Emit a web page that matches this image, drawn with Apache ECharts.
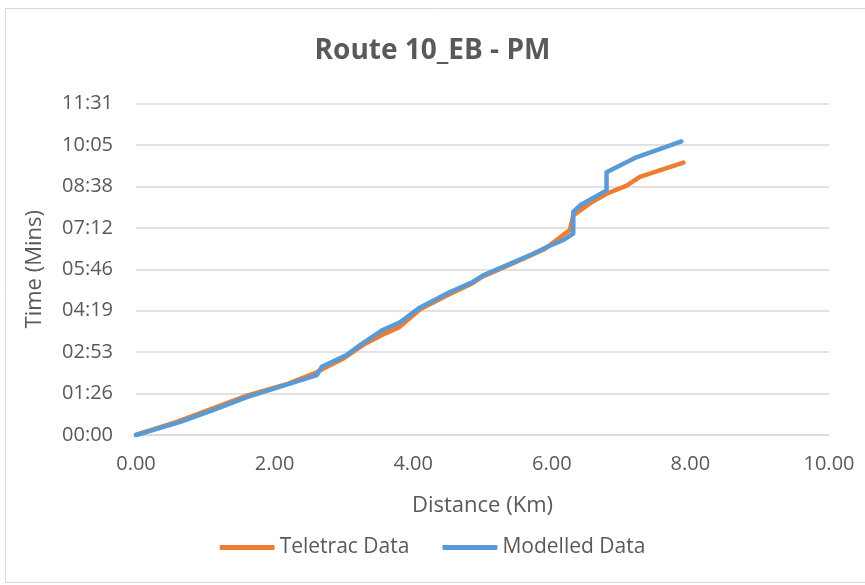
<!DOCTYPE html>
<html>
<head>
<meta charset="utf-8">
<script src="https://cdn.jsdelivr.net/npm/echarts@6/dist/echarts.min.js"></script>
<style>
html,body{margin:0;padding:0;background:#fff;}
#chart{width:865px;height:585px;}
</style>
</head>
<body>
<div id="chart"></div>
<script>
// Distance in km, time in seconds
const teletracDist = [0, 0.6, 1.1, 1.6, 2.2, 2.6, 2.7, 3.0, 3.3, 3.6, 3.8, 4.1, 4.5, 4.85, 5.0, 5.5, 5.9, 6.19, 6.26, 6.31, 6.55, 6.79, 7.08, 7.27, 7.9];
const teletracTime = [0, 28, 55, 82, 107, 130, 138, 160, 190, 212, 225, 262, 292, 316, 330, 362, 388, 420, 427, 458, 483, 503, 520, 538, 568];
const modelledDist = [0, 0.63, 1.11, 1.6, 2.61, 2.68, 3.04, 3.28, 3.56, 3.81, 4.1, 4.53, 4.86, 5.01, 5.69, 5.93, 6.16, 6.31, 6.31, 6.41, 6.79, 6.79, 7.22, 7.87];
const modelledTime = [0, 27, 52, 79, 125, 142, 167, 192, 219, 235, 266, 298, 319, 333, 375, 392, 406, 420, 465, 479, 510, 548, 579, 612];
const yTickLabels = ['00:00', '01:26', '02:53', '04:19', '05:46', '07:12', '08:38', '10:05', '11:31'];
const xTickLabels = ['0.00', '2.00', '4.00', '6.00', '8.00', '10.00'];
const seriesNames = ['Teletrac Data', 'Modelled Data'];

const yStep = 86.4;
const pairs = (xs, ys) => xs.map((x, i) => [x, ys[i]]);
const font = '"Open Sans", "Noto Sans", sans-serif';
const grey = '#595959';

const chart = echarts.init(document.getElementById('chart'));
chart.setOption({
  animation: false,
  backgroundColor: '#fff',
  title: {
    text: 'Route 10_EB - PM',
    left: 'center',
    top: 32,
    textStyle: { fontFamily: font, fontSize: 28, fontWeight: 700, color: grey }
  },
  graphic: [{
    type: 'rect',
    shape: { x: 5.5, y: 8.5, width: 880, height: 574 },
    style: { fill: 'none', stroke: '#d9d9d9', lineWidth: 1 },
    z: -1
  }],
  legend: {
    bottom: 22,
    left: 'center',
    itemWidth: 55,
    itemHeight: 5,
    itemGap: 33,
    icon: 'roundRect',
    textStyle: { fontFamily: font, fontSize: 21, color: grey, padding: [0, 0, 0, 0] },
    data: seriesNames
  },
  grid: { left: 136, right: 36, top: 103.5, bottom: 150 },
  xAxis: {
    type: 'value',
    min: 0, max: 10, interval: 2,
    name: 'Distance (Km)',
    nameLocation: 'middle',
    nameGap: 60,
    nameTextStyle: { fontFamily: font, fontSize: 22, color: grey },
    axisLine: { show: true, lineStyle: { color: '#d9d9d9', width: 1.5 } },
    axisTick: { show: false },
    splitLine: { show: false },
    axisLabel: {
      margin: 19,
      fontFamily: font, fontSize: 20, color: grey,
      formatter: v => xTickLabels[Math.round(v / 2)]
    }
  },
  yAxis: {
    type: 'value',
    min: 0, max: yStep * 8, interval: yStep,
    name: 'Time (Mins)',
    nameLocation: 'middle',
    nameGap: 90,
    nameTextStyle: { fontFamily: font, fontSize: 22, color: grey },
    axisLine: { show: false },
    axisTick: { show: false },
    splitLine: { lineStyle: { color: '#d9d9d9', width: 1.5 } },
    axisLabel: {
      margin: 23,
      fontFamily: font, fontSize: 20, color: grey,
      formatter: v => yTickLabels[Math.round(v / yStep)]
    }
  },
  series: [
    {
      name: seriesNames[0],
      type: 'line',
      data: pairs(teletracDist, teletracTime),
      showSymbol: false,
      symbol: 'none',
      lineStyle: { color: '#ED7D31', width: 4.5, cap: 'round', join: 'round' },
      itemStyle: { color: '#ED7D31' },
      z: 2
    },
    {
      name: seriesNames[1],
      type: 'line',
      data: pairs(modelledDist, modelledTime),
      showSymbol: false,
      symbol: 'none',
      lineStyle: { color: '#5B9BD5', width: 4.5, cap: 'round', join: 'round' },
      itemStyle: { color: '#5B9BD5' },
      z: 3
    }
  ]
});
</script>
</body>
</html>
